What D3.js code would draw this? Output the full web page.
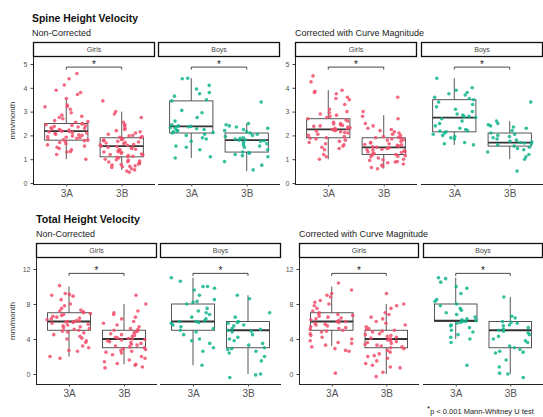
<!DOCTYPE html>
<html>
<head>
<meta charset="utf-8">
<script src="https://cdn.jsdelivr.net/npm/d3@7/dist/d3.min.js"></script>
<style>
  html, body { margin: 0; padding: 0; background: #fff; }
  svg { display: block; font-family: "Liberation Sans", Arial, sans-serif; }
</style>
</head>
<body>
<svg id="chart" width="543" height="417"></svg>
<script>
// ---------------- DATA ----------------
const categories = ["3A", "3B"];
const sexes = ["Girls", "Boys"];
const spineTicks = [0, 1, 2, 3, 4, 5];
const totalTicks = [0, 4, 8, 12];
const yLabel = "mm/month";

// Spine height velocity, non-corrected
const spineNC_girls_3A = [4.6,4.38,4.12,3.9,3.8,3.72,3.55,3.28,3.22,3.2,3.1,2.95,2.85,2.8,2.75,2.7,2.62,2.58,2.55,2.5,2.48,2.45,2.42,2.4,2.38,2.35,2.32,2.3,2.28,2.25,2.22,2.2,2.18,2.16,2.15,2.12,2.1,2.08,2.05,2.02,2.0,1.98,1.95,1.92,1.9,1.88,1.85,1.82,1.8,1.78,1.75,1.7,1.65,1.6,1.55,1.5,1.45,1.4,1.32,1.3,1.2,1.0];
const spineNC_girls_3B = [3.45,3.0,2.9,2.75,2.55,2.45,2.4,2.3,2.25,2.2,2.15,2.1,2.05,2.0,1.98,1.95,1.92,1.9,1.88,1.85,1.82,1.8,1.78,1.75,1.72,1.7,1.68,1.65,1.62,1.6,1.58,1.55,1.53,1.5,1.48,1.45,1.42,1.4,1.38,1.35,1.32,1.3,1.28,1.25,1.22,1.2,1.18,1.15,1.12,1.1,1.08,1.05,1.0,0.98,0.95,0.92,0.9,0.88,0.85,0.82,0.8,0.78,0.75,0.72,0.7,0.68,0.65,0.6,0.55,0.5,0.45];
const spineNC_boys_3A = [4.4,4.38,4.1,3.95,3.8,3.75,3.65,3.5,3.45,3.05,2.95,2.75,2.6,2.45,2.4,2.38,2.36,2.35,2.32,2.3,2.28,2.25,2.2,2.18,2.15,2.12,2.1,2.05,2.0,1.9,1.85,1.75,1.55,1.5,1.4,1.1,1.05];
const spineNC_boys_3B = [3.4,2.5,2.45,2.4,2.35,2.3,2.25,2.2,2.15,2.1,2.05,2.0,1.95,1.9,1.88,1.85,1.82,1.8,1.78,1.75,1.7,1.65,1.6,1.55,1.5,1.4,1.3,1.28,1.25,1.2,1.15,1.1,0.9,0.75,0.55];

// Spine height velocity, corrected with curve magnitude
const spineC_girls_3A = [4.5,4.25,3.9,3.85,3.8,3.75,3.6,3.55,3.5,3.3,3.1,3.0,2.95,2.9,2.85,2.8,2.75,2.7,2.65,2.6,2.55,2.5,2.48,2.45,2.42,2.4,2.38,2.35,2.32,2.3,2.28,2.25,2.22,2.2,2.18,2.15,2.12,2.1,2.05,2.0,1.95,1.9,1.88,1.85,1.8,1.75,1.7,1.65,1.6,1.55,1.5,1.45,1.4,1.2,1.1,1.0];
const spineC_girls_3B = [3.6,3.0,2.8,2.7,2.5,2.4,2.3,2.25,2.2,2.15,2.1,2.05,2.0,1.95,1.92,1.9,1.88,1.85,1.82,1.8,1.75,1.7,1.68,1.65,1.62,1.6,1.58,1.55,1.52,1.5,1.48,1.45,1.42,1.4,1.38,1.35,1.32,1.3,1.28,1.25,1.22,1.2,1.18,1.15,1.12,1.1,1.05,1.0,0.98,0.95,0.9,0.88,0.85,0.8,0.75,0.7,0.65,0.6];
const spineC_boys_3A = [4.4,4.0,3.9,3.8,3.75,3.7,3.6,3.55,3.5,3.4,3.3,3.2,3.1,3.0,2.9,2.85,2.8,2.78,2.75,2.7,2.6,2.5,2.4,2.3,2.25,2.2,2.18,2.15,2.1,2.05,2.0,1.95,1.9,1.85,1.7,1.65,1.6];
const spineC_boys_3B = [3.4,2.6,2.5,2.45,2.4,2.35,2.3,2.2,2.1,2.05,2.0,1.95,1.9,1.85,1.8,1.75,1.72,1.7,1.68,1.65,1.6,1.55,1.5,1.45,1.4,1.3,1.2,1.1,1.0,0.5];

// Total height velocity, non-corrected
const totalNC_girls_3A = [10.1,9.2,9.1,9.0,8.9,8.5,8.0,7.8,7.5,7.3,7.2,7.1,7.0,6.9,6.8,6.7,6.6,6.5,6.4,6.3,6.2,6.1,6.05,6.0,6.0,5.95,5.9,5.8,5.7,5.6,5.5,5.4,5.3,5.2,5.1,5.0,4.9,4.8,4.7,4.5,4.3,4.1,4.0,3.8,3.6,3.2,3.0,2.7,2.6,2.0,1.8];
const totalNC_girls_3B = [9.0,8.0,7.2,7.0,6.8,6.5,6.3,6.0,5.8,5.6,5.4,5.2,5.1,5.0,4.9,4.8,4.7,4.6,4.5,4.4,4.3,4.2,4.1,4.05,4.0,3.95,3.9,3.8,3.7,3.6,3.5,3.4,3.3,3.2,3.1,3.0,2.9,2.8,2.7,2.6,2.5,2.4,2.2,2.0,1.8,1.6,1.4,1.2,1.1,1.0,0.8,0.7];
const totalNC_boys_3A = [11.0,10.6,10.0,10.0,9.8,9.6,9.0,8.5,8.3,8.2,8.0,7.5,7.2,7.0,6.8,6.5,6.3,6.1,6.0,6.0,5.9,5.8,5.6,5.4,5.2,5.0,4.8,4.5,4.0,3.8,3.5,3.0,2.6,1.0];
const totalNC_boys_3B = [9.0,8.6,7.0,6.5,6.0,5.9,5.8,5.6,5.5,5.2,5.1,5.0,4.9,4.8,4.5,4.2,4.0,3.8,3.5,3.3,3.0,2.9,2.8,2.6,2.4,2.0,1.5,0,-0.1,-0.4];

// Total height velocity, corrected with curve magnitude
const totalC_girls_3A = [10.4,9.6,9.2,9.0,8.8,8.4,8.2,8.0,7.8,7.5,7.2,7.0,6.9,6.8,6.7,6.6,6.5,6.4,6.3,6.2,6.1,6.0,6.0,5.9,5.8,5.7,5.6,5.5,5.4,5.3,5.2,5.1,5.0,4.9,4.8,4.6,4.4,4.2,4.0,3.8,3.6,3.5,3.3,3.1,2.9,2.7,2.6,0.1];
const totalC_girls_3B = [9.2,8.0,7.8,7.5,7.0,6.8,6.5,6.3,6.0,5.8,5.6,5.4,5.2,5.1,5.0,4.9,4.8,4.6,4.5,4.4,4.3,4.2,4.1,4.0,4.0,3.9,3.8,3.7,3.6,3.5,3.4,3.3,3.2,3.1,3.0,2.9,2.7,2.5,2.3,2.1,2.0,1.8,1.5,1.2,1.0,0.8,0.7,0.2,-0.3];
const totalC_boys_3A = [11.0,10.9,10.5,10.0,9.8,9.2,8.5,8.3,8.0,7.8,7.5,7.3,7.0,6.8,6.5,6.3,6.2,6.1,6.0,6.0,5.9,5.8,5.6,5.5,5.3,5.0,4.8,4.5,4.2,4.0,3.6,1.0];
const totalC_boys_3B = [8.8,6.6,6.4,6.0,5.9,5.8,5.6,5.5,5.3,5.1,5.0,4.9,4.7,4.5,4.3,4.0,3.8,3.6,3.2,3.0,2.8,2.6,2.5,2.4,1.6,0.8,0.1,0,-0.4];

// Box summaries: [lower whisker, Q1, median, Q3, upper whisker]
const boxSpineNC = { girls_3A: [1.0,1.8,2.18,2.5,3.5], girls_3B: [0.55,1.1,1.55,1.9,3.0], boys_3A: [1.05,2.1,2.38,3.45,4.4], boys_3B: [0.5,1.3,1.8,2.1,2.5] };
const boxSpineC  = { girls_3A: [1.0,1.9,2.25,2.7,3.9], girls_3B: [0.6,1.2,1.5,1.9,2.85], boys_3A: [1.6,2.15,2.75,3.5,4.4], boys_3B: [1.0,1.55,1.7,2.1,2.6] };
const boxTotalNC = { girls_3A: [2,5,6,7,10], girls_3B: [1.1,3,4,5,8], boys_3A: [1,5,6,8,11], boys_3B: [0,3,5,6,9] };
const boxTotalC  = { girls_3A: [3.2,5,6,7,10], girls_3B: [0,3,4,5,8], boys_3A: [4,6,6.1,8,11], boys_3B: [0,3,5,6,8.8] };

const sigSpine = 4.87, sigTotal = 11.5;

// ---------------- LAYOUT ----------------
const colors = { Girls: "#F04F6B", Boys: "#10B58E" };
const svg = d3.select("#chart");

const panels = [
  { title: "Spine Height Velocity", titleLen: 106, subtitle: "Non-Corrected", titleX: 32, titleY: 22, subY: 36,
    left: 33, pitch: 125, width: 122, stripTop: 42, bottom: 184, y0: 183, yTopVal: 5, yTopPx: 64,
    ticks: spineTicks, sig: sigSpine, yLab: true,
    data: { girls_3A: spineNC_girls_3A, girls_3B: spineNC_girls_3B, boys_3A: spineNC_boys_3A, boys_3B: spineNC_boys_3B },
    box: boxSpineNC },
  { title: null, subtitle: "Corrected with Curve Magnitude", titleX: 295, subY: 36,
    left: 295, pitch: 126, width: 122, stripTop: 42, bottom: 184, y0: 183, yTopVal: 5, yTopPx: 64,
    ticks: spineTicks, sig: sigSpine, yLab: false,
    data: { girls_3A: spineC_girls_3A, girls_3B: spineC_girls_3B, boys_3A: spineC_boys_3A, boys_3B: spineC_boys_3B },
    box: boxSpineC },
  { title: "Total Height Velocity", titleLen: 104, subtitle: "Non-Corrected", titleX: 36, titleY: 222.5, subY: 237,
    left: 36, pitch: 124, width: 121, stripTop: 243, bottom: 384, y0: 374, yTopVal: 12, yTopPx: 269,
    ticks: totalTicks, sig: sigTotal, yLab: true,
    data: { girls_3A: totalNC_girls_3A, girls_3B: totalNC_girls_3B, boys_3A: totalNC_boys_3A, boys_3B: totalNC_boys_3B },
    box: boxTotalNC },
  { title: null, subtitle: "Corrected with Curve Magnitude", titleX: 299, subY: 237,
    left: 299, pitch: 124, width: 120, stripTop: 243, bottom: 384, y0: 374, yTopVal: 12, yTopPx: 269,
    ticks: totalTicks, sig: sigTotal, yLab: false,
    data: { girls_3A: totalC_girls_3A, girls_3B: totalC_girls_3B, boys_3A: totalC_boys_3A, boys_3B: totalC_boys_3B },
    box: boxTotalC }
];

const stripH = 15;
// deterministic hash used only to spread points horizontally (jitter layout)
const hash = (i, k) => { const s = Math.sin(i * 12.9898 + k * 78.233) * 43758.5453; return s - Math.floor(s); };

panels.forEach((p, pi) => {
  if (p.title) {
    svg.append("text").attr("x", p.titleX).attr("y", p.titleY)
      .attr("font-size", 11.5).attr("font-weight", "bold").attr("fill", "#111")
      .attr("textLength", p.titleLen).attr("lengthAdjust", "spacingAndGlyphs").text(p.title);
  }
  svg.append("text").attr("x", p.titleX).attr("y", p.subY)
    .attr("font-size", 9).attr("fill", "#222").text(p.subtitle);

  const y = d3.scaleLinear().domain([0, p.yTopVal]).range([p.y0, p.yTopPx]);
  const plotTop = p.stripTop + stripH;

  sexes.forEach((sex, si) => {
    const fx = p.left + si * p.pitch;
    const g = svg.append("g");
    const x = d3.scalePoint().domain(categories).range([fx, fx + p.width]).padding(0.6);
    const step = x.step();
    const boxW = step * 0.78;

    // strip
    g.append("rect").attr("x", fx + 0.5).attr("y", p.stripTop + 0.5)
      .attr("width", p.width - 1).attr("height", stripH - 1)
      .attr("fill", "#fff").attr("stroke", "#111").attr("stroke-width", 1.3);
    g.append("text").attr("x", fx + p.width / 2).attr("y", p.stripTop + stripH / 2 + 2.5)
      .attr("text-anchor", "middle").attr("font-size", 7).attr("fill", "#444").text(sex);

    // x axis
    const xAxis = d3.axisBottom(x).tickSize(2.5).tickPadding(3);
    const xa = g.append("g").attr("transform", `translate(0,${p.bottom})`).call(xAxis);
    xa.select(".domain").attr("d", `M${fx},0.5H${fx + p.width}`).attr("stroke", "#222").attr("stroke-width", 1);
    xa.selectAll(".tick line").attr("stroke", "#444");
    xa.selectAll(".tick text").attr("font-size", 10).attr("fill", "#555")
      .attr("font-family", "'Liberation Sans', Arial, sans-serif");

    // y axis only on first facet
    if (si === 0) {
      const yAxis = d3.axisLeft(y).tickValues(p.ticks).tickFormat(d3.format("d")).tickSize(2.5).tickPadding(3);
      const ya = g.append("g").attr("transform", `translate(${fx},0)`).call(yAxis);
      ya.select(".domain").attr("d", `M0.5,${plotTop}V${p.bottom}`).attr("stroke", "#222").attr("stroke-width", 1);
      ya.selectAll(".tick line").attr("stroke", "#444");
      ya.selectAll(".tick text").attr("font-size", 7).attr("fill", "#555")
        .attr("font-family", "'Liberation Sans', Arial, sans-serif");
      if (p.yLab) {
        svg.append("text")
          .attr("transform", `translate(15,${(plotTop + p.bottom) / 2}) rotate(-90)`)
          .attr("text-anchor", "middle").attr("font-size", 8).attr("fill", "#333").text(yLabel);
      }
    }

    // boxes
    categories.forEach(cat => {
      const key = sex.toLowerCase() + "_" + cat;
      const b = p.box[key];
      const cx = x(cat);
      const bg = g.append("g").attr("stroke", "#444").attr("fill", "none");
      bg.append("line").attr("x1", cx).attr("x2", cx).attr("y1", y(b[0])).attr("y2", y(b[1])).attr("stroke-width", 0.9);
      bg.append("line").attr("x1", cx).attr("x2", cx).attr("y1", y(b[3])).attr("y2", y(b[4])).attr("stroke-width", 0.9);
      bg.append("rect").attr("x", cx - boxW / 2).attr("y", y(b[3]))
        .attr("width", boxW).attr("height", y(b[1]) - y(b[3])).attr("stroke-width", 0.9);
      bg.append("line").attr("x1", cx - boxW / 2).attr("x2", cx + boxW / 2)
        .attr("y1", y(b[2])).attr("y2", y(b[2])).attr("stroke-width", 1.8).attr("stroke", "#333");
    });

    // jittered points
    categories.forEach((cat, ci) => {
      const key = sex.toLowerCase() + "_" + cat;
      const vals = p.data[key];
      const cx = x(cat);
      const k = pi * 4 + si * 2 + ci + 1;
      g.append("g").selectAll("circle").data(vals).join("circle")
        .attr("cx", (d, i) => cx + (hash(i + 1, k) - 0.5) * 2 * step * 0.4)
        .attr("cy", d => y(d))
        .attr("r", 1.8)
        .attr("fill", colors[sex])
        .attr("fill-opacity", 0.85);
    });

    // significance bracket
    const sy = y(p.sig);
    g.append("path")
      .attr("d", `M${x("3A")},${sy + 2.5}V${sy}H${x("3B")}V${sy + 2.5}`)
      .attr("fill", "none").attr("stroke", "#333").attr("stroke-width", 0.9);
    g.append("text").attr("x", (x("3A") + x("3B")) / 2).attr("y", sy + 1)
      .attr("text-anchor", "middle").attr("font-size", 10).attr("fill", "#222").text("*");
  });
});

// footnote
const fn = svg.append("text").attr("x", 427).attr("y", 414).attr("font-size", 7.5).attr("fill", "#222");
fn.append("tspan").attr("font-size", 8).attr("dy", -3).text("*");
fn.append("tspan").attr("dy", 3).text("p < 0.001 Mann-Whitney U test");
</script>
</body>
</html>
